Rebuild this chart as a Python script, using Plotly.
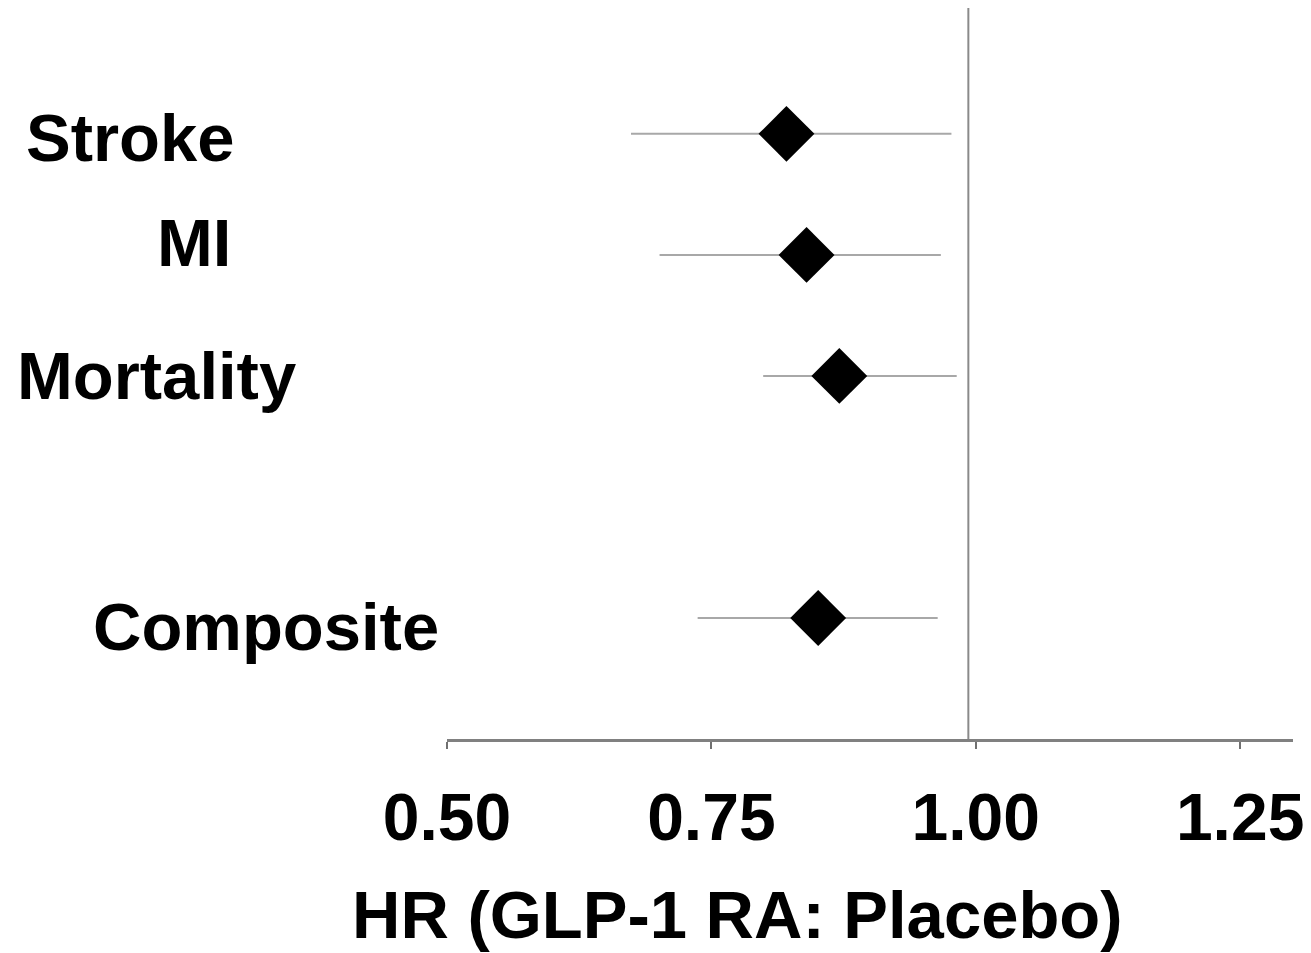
import plotly.graph_objects as go

# Data
outcomes = ["Stroke", "MI", "Mortality", "Composite"]
row_pos = [5, 4, 3, 1]
hr = [0.821, 0.840, 0.871, 0.851]
ci_low = [0.674, 0.701, 0.799, 0.737]
ci_high = [0.977, 0.967, 0.982, 0.964]
ref_hr = 0.993
tick_vals = [0.50, 0.75, 1.00, 1.25]
tick_text = ["0.50", "0.75", "1.00", "1.25"]
x_title = "HR (GLP-1 RA: Placebo)"

# label placement (styling only, pixels relative to plot-area left edge)
label_xshift = [-210, -214, -149, -6]
label_yshift = [-4, 12, 0, -9]

FONT = "Liberation Sans, Arial, sans-serif"

fig = go.Figure()
fig.add_trace(go.Scatter(
    x=hr, y=row_pos, mode="markers",
    marker=dict(symbol="diamond", size=43, color="black", line=dict(width=0)),
    error_x=dict(type="data", symmetric=False,
                 array=[h - m for h, m in zip(ci_high, hr)],
                 arrayminus=[m - l for m, l in zip(hr, ci_low)],
                 color="#a8a8a8", thickness=2, width=0),
    showlegend=False, hoverinfo="skip",
))

fig.add_shape(type="line", xref="x", yref="paper", x0=ref_hr, x1=ref_hr, y0=0, y1=1,
              line=dict(color="#8a8a8a", width=2), layer="below")

for name, y, xs, ys in zip(outcomes, row_pos, label_xshift, label_yshift):
    fig.add_annotation(text=name, xref="paper", yref="y", x=0, y=y,
                       xshift=xs, yshift=ys,
                       xanchor="right", yanchor="middle", showarrow=False,
                       font=dict(family=FONT, size=67, color="black", weight="bold"))

# axis title (offset to the left of the plot centre, as in the original)
fig.add_annotation(text=x_title, xref="paper", yref="paper", x=0, y=0,
                   xshift=290, yshift=-175, xanchor="center", yanchor="middle",
                   showarrow=False,
                   font=dict(family=FONT, size=67, color="black", weight="bold"))

fig.update_layout(
    width=1303, height=945,
    margin=dict(l=439, r=18, t=0, b=214),
    paper_bgcolor="white", plot_bgcolor="white",
    xaxis=dict(range=[0.5, 1.3], tickvals=tick_vals, ticktext=tick_text,
               showgrid=False, zeroline=False,
               showline=True, linecolor="#808080", linewidth=3,
               ticks="outside", ticklen=7, tickwidth=2, tickcolor="#707070",
               ticklabelstandoff=12,
               tickfont=dict(family=FONT, size=66, color="black", weight="bold")),
    yaxis=dict(range=[0, 6.04], visible=False),
)

fig.write_html("out.html")
